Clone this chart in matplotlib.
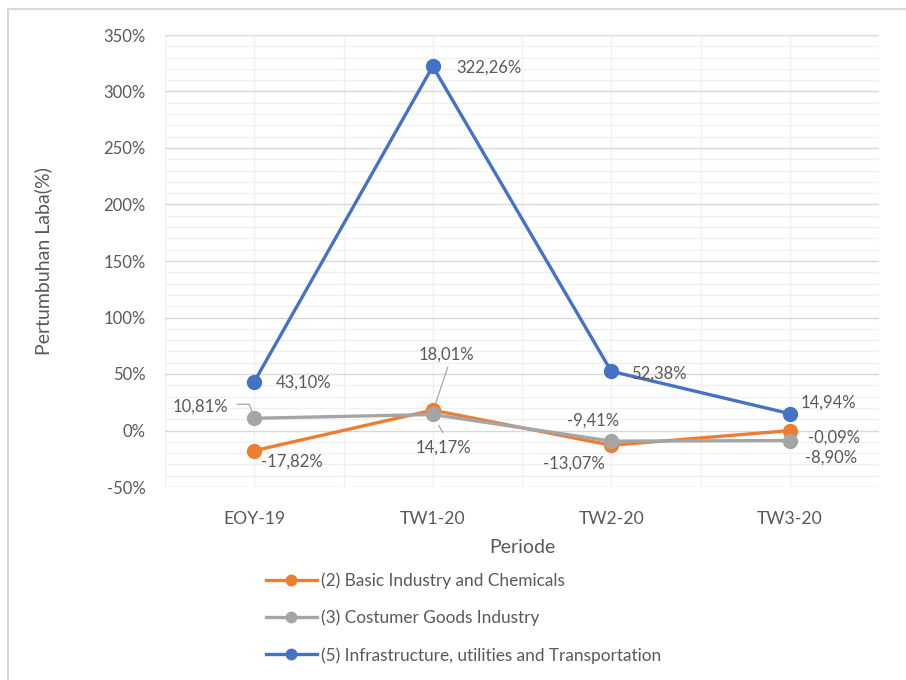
import matplotlib.pyplot as plt
from matplotlib.patches import Rectangle
from matplotlib.lines import Line2D
from matplotlib.ticker import MultipleLocator, FuncFormatter

# periods and profit growth (%) per sector
periode = ['EOY-19', 'TW1-20', 'TW2-20', 'TW3-20']
basic_industry = [-17.82, 18.01, -13.07, -0.09]
consumer_goods = [10.81, 14.17, -9.41, -8.90]
infrastructure = [43.10, 322.26, 52.38, 14.94]

label_basic = '(2) Basic Industry and Chemicals'
label_consumer = '(3) Costumer Goods Industry'
label_infra = '(5) Infrastructure, utilities and Transportation'

txt = '#595959'
plt.rcParams['font.family'] = ['Lato', 'DejaVu Sans']

fig = plt.figure(figsize=(9.06, 6.8), dpi=100)
ax = fig.add_axes([165/906, 1-487/680, (879-165)/906, (487-35)/680])

# outer chart frame
fig.patches.append(Rectangle((8/906, -0.1), 1.2, 1-9/680+0.1, transform=fig.transFigure,
                             fill=False, edgecolor='#D9D9D9', lw=1.5))

x = list(range(len(periode)))
series = [(basic_industry, '#ED7D31', label_basic),
          (consumer_goods, '#A5A5A5', label_consumer),
          (infrastructure, '#4472C4', label_infra)]
for vals, col, lab in series:
    ax.plot(x, vals, color=col, lw=2.4, marker='o', ms=10, label=lab, zorder=3)

ax.set_xlim(-0.5, 3.5)
ax.set_ylim(-50, 350)
ax.set_xticks(x)
ax.set_xticklabels(periode)
ax.yaxis.set_major_locator(MultipleLocator(50))
ax.yaxis.set_minor_locator(MultipleLocator(10))
ax.xaxis.set_minor_locator(MultipleLocator(0.5))
ax.yaxis.set_major_formatter(FuncFormatter(lambda v, p: '%d%%' % v))
ax.grid(which='major', axis='y', color='#D9D9D9', lw=1)
ax.grid(which='minor', axis='y', color='#F0F0F0', lw=1)
ax.grid(which='minor', axis='x', color='#F0F0F0', lw=1)
ax.grid(which='major', axis='x', color='#F0F0F0', lw=1)
ax.set_axisbelow(True)
for s in ax.spines.values():
    s.set_visible(False)
ax.tick_params(which='both', length=0, colors=txt)
ax.tick_params(axis='y', pad=14, labelsize=12)
ax.tick_params(axis='x', pad=17, labelsize=12.6)

ax.set_xlabel('Periode', color=txt, fontsize=14, labelpad=9)
ax.set_ylabel('Pertumbuhan Laba(%)', color=txt, fontsize=14, labelpad=37)

def fmt(v):
    return ('%.2f%%' % v).replace('.', ',')

# label offsets in pixels (dx, dy) from each point
off_basic = [(38, -11), (14, 56), (-37, -18), (44, -7)]
off_consumer = [(-54, 12), (11, -33), (-18, 21), (41, -17)]
off_infra = [(49, -1), (56, -1), (48, -2), (39, 11)]

for vals, offs in [(basic_industry, off_basic), (consumer_goods, off_consumer),
                   (infrastructure, off_infra)]:
    for i, v in enumerate(vals):
        ax.annotate(fmt(v), (i, v), xytext=offs[i], textcoords='offset pixels',
                    ha='center', va='center', fontsize=12, color=txt, zorder=4)

# leader lines, vertices as pixel offsets from the labelled point
def leader(i, v, pts):
    px, py = ax.transData.transform((i, v))
    xs = [px + dx for dx, dy in pts]
    ys = [py + dy for dx, dy in pts]
    fig.lines.append(Line2D(xs, ys, transform=None, color='#A6A6A6', lw=0.9, zorder=2))

leader(0, consumer_goods[0], [(-17, 14), (-5, 14), (-2, 6)])
leader(1, basic_industry[1], [(15, 43), (3, 7)])
leader(1, consumer_goods[1], [(6, -11), (10, -18)])

leg = fig.legend(loc='upper left', bbox_to_anchor=(250/906, 1-557/680), frameon=False,
                 fontsize=12.4, labelcolor=txt, handlelength=3.0, handletextpad=0.25,
                 labelspacing=1.2, markerscale=0.75)

fig.savefig('out.png', dpi=100)
